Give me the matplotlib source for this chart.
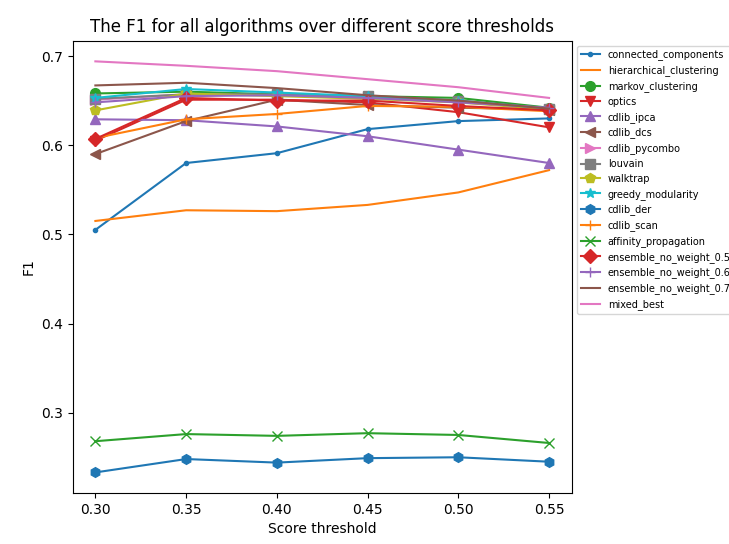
import matplotlib
matplotlib.use("Agg")
from matplotlib import pyplot as plt

thresholds = [0.30, 0.35, 0.40, 0.45, 0.50, 0.55]

connected_components = [0.505, 0.580, 0.591, 0.618, 0.627, 0.630]
hierarchical_clustering = [0.515, 0.527, 0.526, 0.533, 0.547, 0.572]
markov_clustering = [0.658, 0.660, 0.657, 0.655, 0.653, 0.642]
optics = [0.605, 0.651, 0.651, 0.648, 0.637, 0.620]
cdlib_ipca = [0.629, 0.628, 0.621, 0.610, 0.595, 0.580]
cdlib_dcs = [0.590, 0.627, 0.651, 0.645, 0.642, 0.640]
cdlib_pycombo = [0.651, 0.657, 0.656, 0.654, 0.649, 0.641]
louvain = [0.652, 0.657, 0.657, 0.655, 0.650, 0.641]
walktrap = [0.639, 0.658, 0.655, 0.652, 0.648, 0.640]
greedy_modularity = [0.653, 0.663, 0.659, 0.655, 0.650, 0.641]
cdlib_der = [0.233, 0.248, 0.244, 0.249, 0.250, 0.245]
cdlib_scan = [0.608, 0.629, 0.635, 0.644, 0.643, 0.638]
affinity_propagation = [0.268, 0.276, 0.274, 0.277, 0.275, 0.266]
ensemble_no_weight_05 = [0.607, 0.653, 0.650, 0.650, 0.644, 0.639]
ensemble_no_weight_06 = [0.648, 0.655, 0.656, 0.653, 0.648, 0.642]
ensemble_no_weight_07 = [0.667, 0.670, 0.664, 0.656, 0.650, 0.641]
mixed_best = [0.694, 0.689, 0.683, 0.674, 0.665, 0.653]

series = [
    ("connected_components", connected_components, "."),
    ("hierarchical_clustering", hierarchical_clustering, None),
    ("markov_clustering", markov_clustering, "o"),
    ("optics", optics, "v"),
    ("cdlib_ipca", cdlib_ipca, "^"),
    ("cdlib_dcs", cdlib_dcs, "<"),
    ("cdlib_pycombo", cdlib_pycombo, ">"),
    ("louvain", louvain, "s"),
    ("walktrap", walktrap, "p"),
    ("greedy_modularity", greedy_modularity, "*"),
    ("cdlib_der", cdlib_der, "h"),
    ("cdlib_scan", cdlib_scan, "+"),
    ("affinity_propagation", affinity_propagation, "x"),
    ("ensemble_no_weight_0.5", ensemble_no_weight_05, "D"),
    ("ensemble_no_weight_0.6", ensemble_no_weight_06, "+"),
    ("ensemble_no_weight_0.7", ensemble_no_weight_07, None),
    ("mixed_best", mixed_best, None),
]

fig = plt.figure(figsize=(7.29, 5.44), dpi=100)
ax = fig.add_axes([0.0997, 0.0938, 0.6846, 0.8312])

for name, vals, mk in series:
    if mk == ".":
        ax.plot(thresholds, vals, marker=mk, label=name)
    elif mk is None:
        ax.plot(thresholds, vals, label=name)
    else:
        ax.plot(thresholds, vals, marker=mk, markersize=7, label=name)

ax.set_title("The F1 for all algorithms over different score thresholds")
ax.set_xlabel("Score threshold")
ax.set_ylabel("F1")
# legend sits outside the axes, text runs off the right edge like the original
ax.legend(loc="upper left", bbox_to_anchor=(1, 1), fontsize=7, labelspacing=0.5)

plt.savefig("out.png")
